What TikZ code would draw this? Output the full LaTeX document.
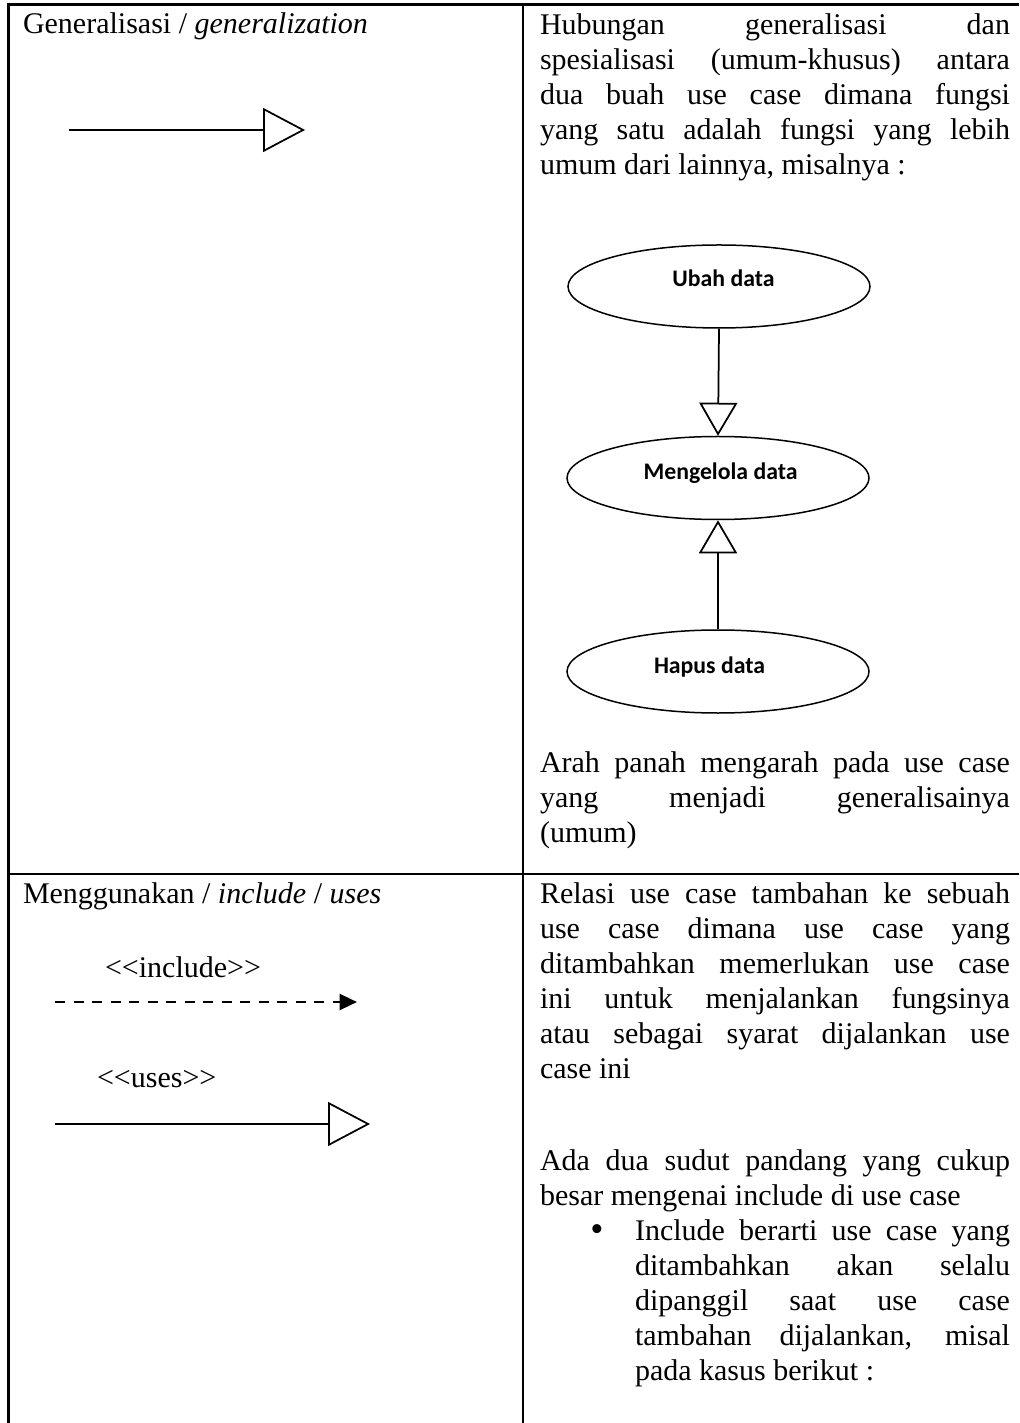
\documentclass[tikz,border=0pt]{standalone}
\usepackage{fontspec}
\setmainfont{Liberation Serif}
\newfontfamily\ucfont{Carlito}
\usetikzlibrary{arrows.meta,shapes.geometric}
\hyphenpenalty=10000
\exhyphenpenalty=10000
\tolerance=10000
\hbadness=10000
\tikzset{
  grid/.style={line width=0.9pt},
  body/.style={inner sep=0pt, outer sep=0pt, anchor=base west,
    font=\fontsize{12pt}{14pt}\selectfont},
  para/.style={body, align=justify},
  usecase/.style={draw, ellipse, line width=0.6pt, minimum width=120.8pt,
    minimum height=33.2pt, inner sep=0pt},
  uclabel/.style={anchor=base, inner sep=0pt,
    font=\ucfont\bfseries\fontsize{9.5pt}{11pt}\selectfont},
  genbig/.style={line width=0.7pt,
    -{Triangle[open, length=16.8pt, width=17.6pt, fill=white]}},
  gensmall/.style={line width=0.7pt,
    -{Triangle[open, length=13.2pt, width=15.2pt, fill=white]}},
  incl/.style={line width=1.1pt, dash pattern=on 4pt off 3.4pt,
    -{Triangle[length=7pt, width=6.4pt]}},
}
\begin{document}
\begin{tikzpicture}[x=0.4pt, y=-0.4pt]
\useasboundingbox (0,0) rectangle (1019,1423);

% table rules
\draw[grid] (8.5,1423) -- (8.5,4.5) -- (1019,4.5);
\draw[grid] (523,4.5) -- (523,1423);
\draw[grid] (8.5,874) -- (1019,874);

% ---------- row 1: generalization ----------
\node (gtitle) [body] at (23,34) {Generalisasi / \textit{generalization}};
\coordinate (g0) at (69,130);
\coordinate (g1) at (305,130);
\draw[genbig] (g0) -- (g1);

\node (gdesc) [para, text width=188pt] at (540,35)
  {Hubungan generalisasi dan\linebreak
   spesialisasi (umum-khusus) antara\linebreak
   dua buah use case dimana fungsi\linebreak
   yang satu adalah fungsi yang lebih\linebreak
   umum dari lainnya, misalnya :};

\node (ubah)  [usecase] at (719,286.5) {};
\node (meng)  [usecase] at (718,478) {};
\node (hapus) [usecase] at (718,671.5) {};
\node (lubah)  [uclabel] at (723.5,287) {Ubah data};
\node (lmeng)  [uclabel] at (720.5,480) {Mengelola data};
\node (lhapus) [uclabel] at (709.5,673) {Hapus data};
\draw[gensmall] (ubah.south) -- (meng.north);
\draw[gensmall] (hapus.north) -- (meng.south);

\node (gnote) [para, text width=188pt] at (540,772)
  {Arah panah mengarah pada use case\linebreak
   yang menjadi generalisainya\linebreak
   (umum)};

% ---------- row 2: include / uses ----------
\node (ititle) [body] at (23,903)
  {Menggunakan / \textit{include} / \textit{uses}};
\node (linc) [body] at (105,977) {{<}{<}include{>}{>}};
\coordinate (i0) at (55,1002);
\coordinate (i1) at (357,1002);
\draw[incl] (i0) -- (i1);
\node (luse) [body] at (97,1087) {{<}{<}uses{>}{>}};
\coordinate (u0) at (55,1124);
\coordinate (u1) at (370,1124);
\draw[genbig] (u0) -- (u1);

\node (idesc) [para, text width=188pt] at (540,903)
  {Relasi use case tambahan ke sebuah\linebreak
   use case dimana use case yang\linebreak
   ditambahkan memerlukan use case\linebreak
   ini untuk menjalankan fungsinya\linebreak
   atau sebagai syarat dijalankan use\linebreak
   case ini};

\node (iview) [para, text width=188pt] at (540,1170)
  {Ada dua sudut pandang yang cukup\linebreak
   besar mengenai include di use case};
\node (bul) [body, anchor=base, font=\fontsize{15pt}{15pt}\selectfont]
  at (597,1241) {\textbullet};
\node (iitem) [para, text width=150pt] at (635,1240)
  {Include berarti use case yang\linebreak
   ditambahkan akan selalu\linebreak
   dipanggil saat use case\linebreak
   tambahan dijalankan, misal\linebreak
   pada kasus berikut :};
\end{tikzpicture}
\end{document}
